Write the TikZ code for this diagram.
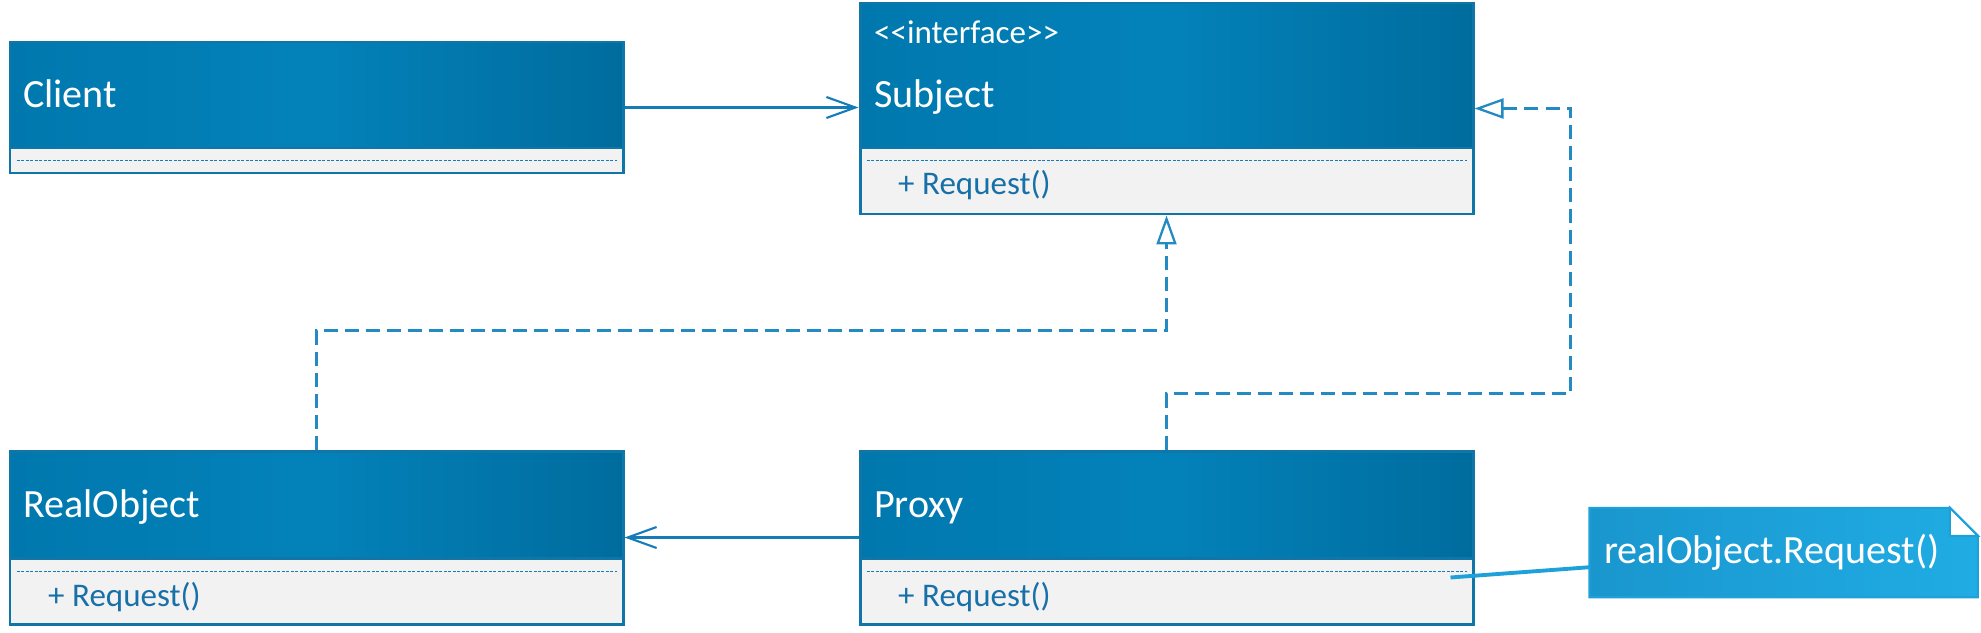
\documentclass[tikz,border=0pt]{standalone}
\usepackage{fontspec}
\setmainfont{Carlito}
\usepackage{tikz}
\usetikzlibrary{arrows.meta,positioning,calc,backgrounds}
\definecolor{umlHeadLeft}{RGB}{0,120,174}
\definecolor{umlHeadMid}{RGB}{3,130,186}
\definecolor{umlHeadRight}{RGB}{0,108,158}
\definecolor{umlLine}{RGB}{16,118,168}
\definecolor{umlBody}{RGB}{242,242,242}
\definecolor{umlText}{RGB}{24,112,168}
\definecolor{umlLink}{RGB}{20,124,182}
\definecolor{umlDash}{RGB}{36,138,194}
\definecolor{noteLeft}{RGB}{26,150,206}
\definecolor{noteRight}{RGB}{32,172,228}
\definecolor{noteEdge}{RGB}{30,160,216}

\begin{document}
\begin{tikzpicture}[
    classbox/.style={rectangle, draw=umlLine, line width=0.85pt, fill=umlBody, minimum width=6.13cm, inner sep=0pt},
    headbox/.style={rectangle, draw=umlLine, line width=0.85pt, left color=umlHeadLeft, right color=umlHeadRight, middle color=umlHeadMid, minimum width=6.13cm, inner sep=0pt},
    title/.style={text=white, font=\fontsize{11.4}{13}\selectfont, inner sep=0pt, anchor=base west},
    stereo/.style={text=white, font=\fontsize{9.4}{11}\selectfont, inner sep=0pt, anchor=base west},
    member/.style={text=umlText, font=\fontsize{9.4}{11}\selectfont, inner sep=0pt, anchor=base west},
    sepline/.style={draw=umlLink, line width=0.4pt, dash pattern=on 0.03cm off 0.015cm},
    assoc/.style={-{Straight Barb[length=0.29cm, width=0.21cm]}, draw=umlLink, line width=0.6pt},
    realize/.style={-{Triangle[open, length=0.29cm, width=0.2cm, fill=white]}, draw=umlDash, line width=0.65pt, dash pattern=on 0.14cm off 0.07cm},
    memo/.style={text=white, font=\fontsize{11.4}{13}\selectfont, text width=3.59cm, inner xsep=0.14cm, inner ysep=0pt, minimum height=0.88cm, align=left},
    notelink/.style={draw=noteEdge, line width=1.1pt}
]
    \useasboundingbox (0,0) rectangle (19.81,-6.32);

    % classes
    \node[classbox, minimum height=1.31cm] (client) at (3.165,-1.075) {};
    \node[headbox, minimum height=1.06cm, below=0cm of client.north] (clientHead) {};
    \node[classbox, minimum height=2.11cm] (subject) at (11.665,-1.085) {};
    \node[headbox, minimum height=1.45cm, below=0cm of subject.north] (subjectHead) {};
    \node[classbox, minimum height=1.73cm] (realobj) at (3.165,-5.375) {};
    \node[headbox, minimum height=1.07cm, below=0cm of realobj.north] (realobjHead) {};
    \node[classbox, minimum height=1.73cm] (proxy) at (11.665,-5.375) {};
    \node[headbox, minimum height=1.07cm, below=0cm of proxy.north] (proxyHead) {};

    \node[title] (clientName) at ($(clientHead.south west)+(0.14,0.42)$) {Client};
    \node[stereo] (subjectStereo) at ($(subjectHead.north west)+(0.15,-0.42)$) {<\kern0pt<interface>\kern0pt>};
    \node[title] (subjectName) at ($(subjectHead.south west)+(0.15,0.42)$) {Subject};
    \node[title] (realobjName) at ($(realobjHead.south west)+(0.14,0.42)$) {RealObject};
    \node[title] (proxyName) at ($(proxyHead.south west)+(0.15,0.42)$) {Proxy};

    \draw[sepline] ($(clientHead.south west)+(0.08,-0.11)$) -- ($(clientHead.south east)+(-0.08,-0.11)$);
    \draw[sepline] ($(subjectHead.south west)+(0.08,-0.11)$) -- ($(subjectHead.south east)+(-0.08,-0.11)$);
    \draw[sepline] ($(realobjHead.south west)+(0.08,-0.12)$) -- ($(realobjHead.south east)+(-0.08,-0.12)$);
    \draw[sepline] ($(proxyHead.south west)+(0.08,-0.12)$) -- ($(proxyHead.south east)+(-0.08,-0.12)$);

    \node[member] (subjectReq) at ($(subjectHead.south west)+(0.39,-0.45)$) {+ Request()};
    \node[member] (realobjReq) at ($(realobjHead.south west)+(0.39,-0.47)$) {+ Request()};
    \node[member] (proxyReq) at ($(proxyHead.south west)+(0.39,-0.47)$) {+ Request()};

    % note
    \node[memo, right=1.15cm of proxy.east, yshift=-0.15cm] (note) {realObject.Request()};
    \begin{scope}[on background layer]
        \filldraw[draw=noteEdge, line width=0.6pt, left color=noteLeft, right color=noteRight]
            (note.south west) -- (note.north west) -- ($(note.north east)+(-0.28,0)$)
            -- ($(note.north east)+(0,-0.28)$) -- (note.south east) -- cycle;
        \filldraw[fill=white, draw=noteEdge, line width=0.6pt]
            ($(note.north east)+(-0.28,0)$) -- ($(note.north east)+(-0.28,-0.28)$)
            -- ($(note.north east)+(0,-0.28)$) -- cycle;
    \end{scope}

    % connectors
    \draw[assoc] (client) -- (subject.west |- client);
    \draw[assoc] (proxy) -- (realobj);
    \draw[realize] (realobj.north) -- ++(0,1.19) -| (subject.south);
    \draw[realize] (proxy.north) -- ++(0,0.56) -| ($(subject.east)+(0.96,0)$) -- (subject.east);

    \coordinate (proxyPin) at ($(proxyHead.south east)+(-0.24,-0.18)$);
    \coordinate (notePin) at ($(note.south west)+(0,0.3)$);
    \draw[notelink] (proxyPin) -- (notePin);
\end{tikzpicture}
\end{document}
